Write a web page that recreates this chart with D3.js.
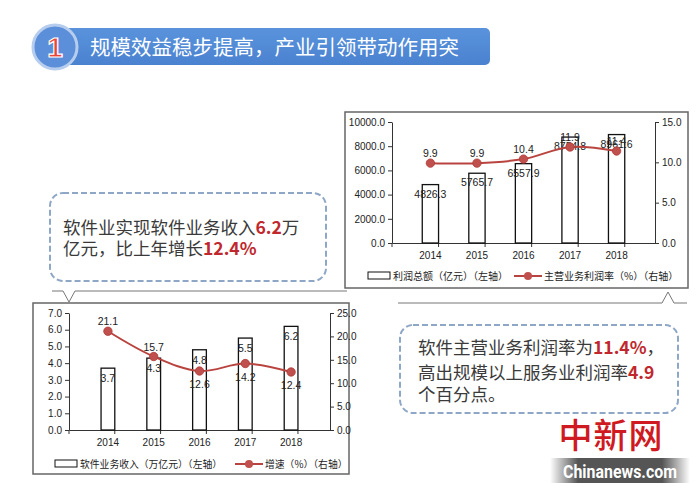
<!DOCTYPE html>
<html>
<head>
<meta charset="utf-8">
<script src="https://cdn.jsdelivr.net/npm/d3@7"></script>
<style>
  body { margin: 0; background: #fff; }
  svg { display: block; }
</style>
</head>
<body>
<div id="chart"></div>
<script>
const years = ['2014', '2015', '2016', '2017', '2018'];
const profitTotal = [4826.3, 5765.7, 6557.9, 8754.8, 8961.6];
const profitRate = [9.9, 9.9, 10.4, 11.9, 11.4];
const revenue = [3.7, 4.3, 4.8, 5.5, 6.2];
const growth = [21.1, 15.7, 12.6, 14.2, 12.4];
const profitTicks = [0, 2000, 4000, 6000, 8000, 10000];
const rateTicks = [0, 5, 10, 15];
const revenueTicks = [0, 1, 2, 3, 4, 5, 6, 7];
const growthTicks = [0, 5, 10, 15, 20, 25];
const growthBelow = [false, false, true, true, true];

const CJK = '"Noto Sans CJK SC", sans-serif';
const NUM = '"Liberation Sans", Arial, sans-serif';
const RED = '#c0504d';

const svg = d3.select('#chart').append('svg')
  .attr('width', 700).attr('height', 498);

// title banner
const defs = svg.append('defs');
const grad = defs.append('linearGradient').attr('id', 'banner').attr('x1', 0).attr('y1', 0).attr('x2', 0).attr('y2', 1);
grad.append('stop').attr('offset', '0%').attr('stop-color', '#5a93dc');
grad.append('stop').attr('offset', '100%').attr('stop-color', '#4a82d0');

svg.append('rect')
  .attr('x', 60).attr('y', 28).attr('width', 430).attr('height', 37)
  .attr('rx', 5).attr('fill', 'url(#banner)');
svg.append('circle')
  .attr('cx', 55).attr('cy', 47).attr('r', 22)
  .attr('fill', '#5b8fd9').attr('stroke', '#b7cdee').attr('stroke-width', 3);
svg.append('text')
  .attr('x', 55).attr('y', 57).attr('text-anchor', 'middle')
  .style('font-family', NUM).style('font-size', '28px').style('font-weight', 'bold')
  .attr('fill', '#e8453c').attr('stroke', '#fff').attr('stroke-width', 1.2)
  .text('1');
svg.append('text')
  .attr('x', 90).attr('y', 55)
  .style('font-family', CJK).style('font-size', '20.5px')
  .attr('fill', '#fff')
  .text('规模效益稳步提高，产业引领带动作用突');

function comboChart(opts) {
  const g = svg.append('g');
  g.append('rect')
    .attr('x', opts.box[0]).attr('y', opts.box[1])
    .attr('width', opts.box[2] - opts.box[0]).attr('height', opts.box[3] - opts.box[1])
    .attr('fill', '#fff').attr('stroke', '#666').attr('stroke-width', 1.5);

  const x = d3.scaleBand().domain(years).range([opts.left, opts.right]).padding(opts.pad);
  const yL = d3.scaleLinear().domain(opts.leftDomain).range([opts.bottom, opts.top]);
  const yR = d3.scaleLinear().domain(opts.rightDomain).range([opts.bottom, opts.top]);

  const axL = g.append('g').attr('transform', `translate(${opts.left},0)`)
    .call(d3.axisLeft(yL).tickValues(opts.leftTicks).tickFormat(d3.format('.1f')).tickSize(4).tickSizeOuter(0));
  const axR = g.append('g').attr('transform', `translate(${opts.right},0)`)
    .call(d3.axisRight(yR).tickValues(opts.rightTicks).tickFormat(d3.format('.1f')).tickSize(4).tickSizeOuter(0));
  const axB = g.append('g').attr('transform', `translate(0,${opts.bottom})`)
    .call(d3.axisBottom(x).tickSize(0).tickPadding(9));

  // category boundary ticks on the x axis
  const step = x.step();
  g.selectAll('.xb').data(d3.range(years.length + 1)).join('line')
    .attr('x1', i => opts.left + i * step).attr('x2', i => opts.left + i * step)
    .attr('y1', opts.bottom).attr('y2', opts.bottom + 4)
    .attr('stroke', '#333');

  [axL, axR, axB].forEach(a => {
    a.select('.domain').attr('stroke', '#333');
    a.selectAll('.tick line').attr('stroke', '#333');
    a.selectAll('.tick text').style('font-family', NUM).style('font-size', '10px').attr('fill', '#222');
  });

  g.selectAll('.bar').data(opts.bars).join('rect')
    .attr('x', (d, i) => x(years[i]))
    .attr('y', d => yL(d))
    .attr('width', x.bandwidth())
    .attr('height', d => opts.bottom - yL(d))
    .attr('fill', '#fff').attr('stroke', '#111').attr('stroke-width', 1.3);

  g.selectAll('.barlab').data(opts.bars).join('text')
    .attr('x', (d, i) => x(years[i]) + x.bandwidth() / 2)
    .attr('y', d => yL(d) + opts.barLabOff)
    .attr('text-anchor', 'middle')
    .style('font-family', NUM).style('font-size', '10.5px').attr('fill', '#222')
    .text(d => opts.barFmt(d));

  const pts = opts.line.map((v, i) => [x(years[i]) + x.bandwidth() / 2, yR(v)]);
  g.append('path')
    .attr('d', d3.line().curve(d3.curveCatmullRom.alpha(0.5))(pts))
    .attr('fill', 'none').attr('stroke', '#b9443f').attr('stroke-width', 2);
  g.selectAll('.dot').data(pts).join('circle')
    .attr('cx', d => d[0]).attr('cy', d => d[1]).attr('r', 4.2)
    .attr('fill', RED).attr('stroke', '#b03a36').attr('stroke-width', 0.8);
  g.selectAll('.linelab').data(opts.line).join('text')
    .attr('x', (d, i) => pts[i][0])
    .attr('y', (d, i) => pts[i][1] + (opts.below[i] ? 17 : -6))
    .attr('text-anchor', 'middle')
    .style('font-family', NUM).style('font-size', '10.5px').attr('fill', '#222')
    .text(d => d.toFixed(1));

  // legend
  const ly = opts.legendY;
  const lg = opts.legend;
  g.append('rect').attr('x', lg[0]).attr('y', ly - 4).attr('width', 22).attr('height', 7)
    .attr('fill', '#fff').attr('stroke', '#111').attr('stroke-width', 1);
  g.append('text').attr('x', lg[0] + 25).attr('y', ly + 3.5)
    .style('font-family', CJK).style('font-size', opts.legendFont).attr('fill', '#222')
    .text(opts.barName);
  g.append('line').attr('x1', lg[1]).attr('x2', lg[1] + 28).attr('y1', ly).attr('y2', ly)
    .attr('stroke', '#b9443f').attr('stroke-width', 2);
  g.append('circle').attr('cx', lg[1] + 14).attr('cy', ly).attr('r', 4).attr('fill', RED);
  g.append('text').attr('x', lg[1] + 30).attr('y', ly + 3.5)
    .style('font-family', CJK).style('font-size', opts.legendFont).attr('fill', '#222')
    .text(opts.lineName);
}

comboChart({
  box: [345, 112, 688, 288],
  left: 392, right: 655, top: 122, bottom: 243, pad: 0.65,
  leftDomain: [0, 10000], rightDomain: [0, 15],
  leftTicks: profitTicks, rightTicks: rateTicks,
  bars: profitTotal, line: profitRate, below: [false, false, false, false, false],
  barLabOff: 13, barFmt: d => d.toFixed(1),
  legendY: 276, legend: [368, 514], legendFont: '10px',
  barName: '利润总额（亿元）（左轴）', lineName: '主营业务利润率（%）（右轴）'
});

comboChart({
  box: [33, 303, 349, 474],
  left: 69, right: 330, top: 313, bottom: 430, pad: 0.7,
  leftDomain: [0, 7], rightDomain: [0, 25],
  leftTicks: revenueTicks, rightTicks: growthTicks,
  bars: revenue, line: growth, below: growthBelow,
  barLabOff: 14, barFmt: d => d.toFixed(1),
  legendY: 464, legend: [55, 235], legendFont: '9.8px',
  barName: '软件业务收入（万亿元）（左轴）', lineName: '增速（%）（右轴）'
});

// callout pointer lines
svg.append('path')
  .attr('d', 'M52,291 H63 L69,302 L75,291 H347')
  .attr('fill', 'none').attr('stroke', '#777').attr('stroke-width', 1);
svg.append('path')
  .attr('d', 'M398,303 H662 L668,292 L674,303 H687')
  .attr('fill', 'none').attr('stroke', '#777').attr('stroke-width', 1);

// callout bubbles
function bubble(x0, y0, w, h, lines) {
  svg.append('rect')
    .attr('x', x0).attr('y', y0).attr('width', w).attr('height', h).attr('rx', 13)
    .attr('fill', '#fff').attr('stroke', '#8fa7c6').attr('stroke-width', 2)
    .attr('stroke-dasharray', '6,3');
  lines.forEach(l => {
    const t = svg.append('text').attr('x', l.x).attr('y', l.y)
      .style('font-family', CJK).style('font-size', '17.5px').attr('fill', '#3a3a3a');
    l.parts.forEach(p => {
      const s = t.append('tspan').text(p[0]);
      if (p[1]) s.attr('fill', '#c0282d').style('font-weight', 'bold');
    });
  });
}

bubble(50, 193, 276, 88, [
  { x: 63, y: 234, parts: [['软件业实现软件业务收入'], ['6.2', true], ['万']] },
  { x: 63, y: 255, parts: [['亿元，比上年增长'], ['12.4%', true]] }
]);

bubble(400, 325, 278, 88, [
  { x: 418, y: 354, parts: [['软件主营业务利润率为'], ['11.4%', true], ['，']] },
  { x: 418, y: 379, parts: [['高出规模以上服务业利润率'], ['4.9', true]] },
  { x: 418, y: 401, parts: [['个百分点。']] }
]);

// watermark
svg.append('text')
  .attr('x', 611).attr('y', 448).attr('text-anchor', 'middle')
  .style('font-family', CJK).style('font-size', '34px').style('font-weight', '500')
  .attr('fill', '#cf1a22').attr('letter-spacing', 1)
  .text('中新网');
const wg = defs.append('linearGradient').attr('id', 'wm').attr('x1', 0).attr('x2', 1);
wg.append('stop').attr('offset', '0%').attr('stop-color', '#fff');
wg.append('stop').attr('offset', '20%').attr('stop-color', '#555');
wg.append('stop').attr('offset', '80%').attr('stop-color', '#555');
wg.append('stop').attr('offset', '100%').attr('stop-color', '#fff');
svg.append('rect').attr('x', 550).attr('y', 458).attr('width', 140).attr('height', 25)
  .attr('fill', 'url(#wm)');
svg.append('text')
  .attr('x', 620).attr('y', 478).attr('text-anchor', 'middle')
  .style('font-family', '"Liberation Sans Narrow", "Roboto", sans-serif')
  .style('font-size', '19px').style('font-weight', 'bold')
  .attr('fill', '#fff').attr('textLength', 114).attr('lengthAdjust', 'spacingAndGlyphs')
  .text('Chinanews.com');
</script>
</body>
</html>
